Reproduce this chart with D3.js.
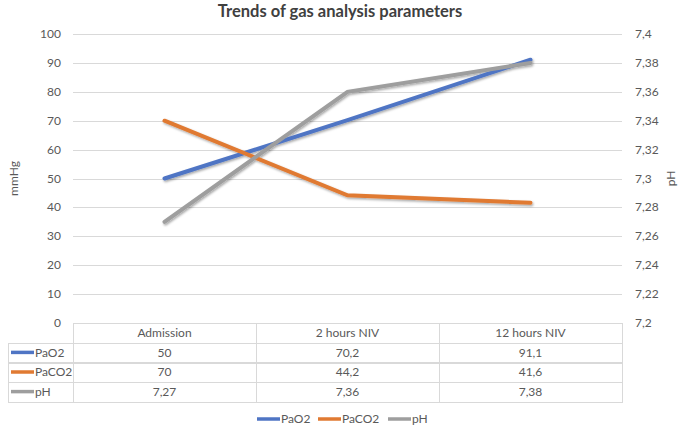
<!DOCTYPE html>
<html lang="en">
<head>
<meta charset="utf-8">
<title>Trends of gas analysis parameters</title>
<script src="https://cdn.jsdelivr.net/npm/d3@7"></script>
<style>
  body { margin: 0; background: #fff; }
  text { font-family: Lato, "Open Sans", sans-serif; fill: #595959; }
  .title { font-size: 16.5px; font-weight: bold; fill: #404040; text-anchor: middle; }
  .tick-label { font-size: 12px; }
  .grid { stroke: #d9d9d9; stroke-width: 1; shape-rendering: crispEdges; }
  .cell { stroke: #d9d9d9; fill: none; shape-rendering: crispEdges; }
</style>
</head>
<body>
<div id="chart"></div>
<script>
// data
var categories = ["Admission", "2 hours NIV", "12 hours NIV"];
var seriesNames = ["PaO2", "PaCO2", "pH"];
var pao2 = [50, 70.2, 91.1];
var paco2 = [70, 44.2, 41.6];
var ph = [7.27, 7.36, 7.38];
var phLabels = ["7,27", "7,36", "7,38"];
var leftTicks = [0, 10, 20, 30, 40, 50, 60, 70, 80, 90, 100];
var rightTicks = [7.2, 7.22, 7.24, 7.26, 7.28, 7.3, 7.32, 7.34, 7.36, 7.38, 7.4];
var colors = ["#4F75C4", "#E07A32", "#9E9E9E"];

var width = 680, height = 431;
var plot = {left: 73, right: 622, top: 34, bottom: 323};

var svg = d3.select("#chart").append("svg")
    .attr("width", width)
    .attr("height", height);

var defs = svg.append("defs");
var f = defs.append("filter").attr("id", "shadow")
    .attr("x", "-10%").attr("y", "-10%").attr("width", "120%").attr("height", "140%");
f.append("feDropShadow").attr("dx", 1).attr("dy", 1.5).attr("stdDeviation", 1)
    .attr("flood-color", "#000").attr("flood-opacity", 0.35);

var xBand = d3.scaleBand().domain(categories).range([plot.left, plot.right]);
var xPoint = d3.scalePoint().domain(categories).range([plot.left, plot.right]).padding(0.5);
var yLeft = d3.scaleLinear().domain([0, 100]).range([plot.bottom, plot.top]);
var yRight = d3.scaleLinear().domain([7.2, 7.4]).range([plot.bottom, plot.top]);

svg.append("text")
    .attr("class", "title")
    .attr("x", width / 2)
    .attr("y", 17)
    .text("Trends of gas analysis parameters");

// gridlines
svg.append("g").selectAll("line")
    .data(leftTicks.slice(1))
    .enter().append("line")
    .attr("class", "grid")
    .attr("x1", plot.left).attr("x2", plot.right)
    .attr("y1", function(d){ return Math.round(yLeft(d)) + 0.5; })
    .attr("y2", function(d){ return Math.round(yLeft(d)) + 0.5; });

// left axis labels
svg.append("g").selectAll("text")
    .data(leftTicks)
    .enter().append("text")
    .attr("class", "tick-label")
    .attr("x", 61)
    .attr("y", function(d){ return yLeft(d) + 4; })
    .attr("text-anchor", "end")
    .text(function(d){ return d; });

// right axis labels
svg.append("g").selectAll("text")
    .data(rightTicks)
    .enter().append("text")
    .attr("class", "tick-label")
    .attr("x", 635)
    .attr("y", function(d){ return yRight(d) + 4; })
    .text(function(d){ return String(+d.toFixed(2)).replace(".", ","); });

svg.append("text")
    .attr("class", "tick-label")
    .attr("transform", "translate(18," + (plot.top + plot.bottom) / 2 + ") rotate(-90)")
    .attr("text-anchor", "middle")
    .text("mmHg");

svg.append("text")
    .attr("class", "tick-label")
    .attr("transform", "translate(675," + (plot.top + plot.bottom) / 2 + ") rotate(-90)")
    .attr("text-anchor", "middle")
    .text("pH");

// lines
var lineLeft = d3.line()
    .x(function(d, i){ return xPoint(categories[i]); })
    .y(function(d){ return yLeft(d); });
var lineRight = d3.line()
    .x(function(d, i){ return xPoint(categories[i]); })
    .y(function(d){ return yRight(d); });

var lines = svg.append("g").attr("filter", "url(#shadow)");
lines.append("path").datum(pao2).attr("d", lineLeft)
    .attr("fill", "none").attr("stroke", colors[0]).attr("stroke-width", 4).attr("stroke-linecap", "round");
lines.append("path").datum(paco2).attr("d", lineLeft)
    .attr("fill", "none").attr("stroke", colors[1]).attr("stroke-width", 4).attr("stroke-linecap", "round");
lines.append("path").datum(ph).attr("d", lineRight)
    .attr("fill", "none").attr("stroke", colors[2]).attr("stroke-width", 4).attr("stroke-linecap", "round");

// data table
var rowH = 19.6;
var tableTop = plot.bottom;
var tableLeft = 8;
var table = svg.append("g");

// header cells
categories.forEach(function(c){
    table.append("rect").attr("class", "cell")
        .attr("x", Math.round(xBand(c)) + 0.5).attr("y", Math.round(tableTop) + 0.5)
        .attr("width", Math.round(xBand.bandwidth())).attr("height", Math.round(rowH));
    table.append("text").attr("class", "tick-label")
        .attr("x", xPoint(c)).attr("y", tableTop + 14)
        .attr("text-anchor", "middle").text(c);
});

var rowValues = [
    pao2.map(function(d){ return String(d).replace(".", ","); }),
    paco2.map(function(d){ return String(d).replace(".", ","); }),
    phLabels
];

seriesNames.forEach(function(name, r){
    var y0 = tableTop + rowH * (r + 1);
    table.append("rect").attr("class", "cell")
        .attr("x", tableLeft + 0.5).attr("y", Math.round(y0) + 0.5)
        .attr("width", plot.left - tableLeft).attr("height", Math.round(rowH));
    table.append("line")
        .attr("x1", 11).attr("x2", 34)
        .attr("y1", y0 + rowH / 2).attr("y2", y0 + rowH / 2)
        .attr("stroke", colors[r]).attr("stroke-width", 3.5);
    table.append("text").attr("class", "tick-label")
        .attr("x", 35).attr("y", y0 + 14).text(name);
    categories.forEach(function(c, i){
        table.append("rect").attr("class", "cell")
            .attr("x", Math.round(xBand(c)) + 0.5).attr("y", Math.round(y0) + 0.5)
            .attr("width", Math.round(xBand.bandwidth())).attr("height", Math.round(rowH));
        table.append("text").attr("class", "tick-label")
            .attr("x", xPoint(c)).attr("y", y0 + 14)
            .attr("text-anchor", "middle").text(rowValues[r][i]);
    });
});

// legend
var legendX = [257, 318, 388];
var legend = svg.append("g");
seriesNames.forEach(function(name, i){
    legend.append("line")
        .attr("x1", legendX[i]).attr("x2", legendX[i] + 23)
        .attr("y1", 419).attr("y2", 419)
        .attr("stroke", colors[i]).attr("stroke-width", 3.5);
    legend.append("text").attr("class", "tick-label")
        .attr("x", legendX[i] + 24).attr("y", 423).text(name);
});
</script>
</body>
</html>
